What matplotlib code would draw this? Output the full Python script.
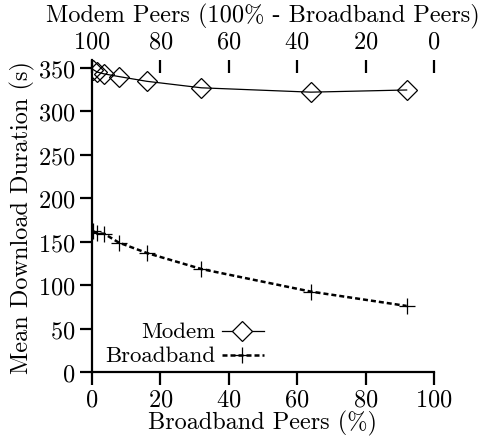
import matplotlib
matplotlib.use("Agg")
import matplotlib.pyplot as plt
from matplotlib.lines import Line2D

plt.rcParams['font.family'] = ['cmr10', 'DejaVu Serif']
plt.rcParams['axes.formatter.use_mathtext'] = True
plt.rcParams['mathtext.fontset'] = 'cm'

broadband_pct = [0.3, 1.6, 3.6, 7.8, 16, 32, 64, 92]
modem_dur = [348, 345, 343, 340, 334.5, 327, 322, 324.5]
broadband_dur = [162, 159.5, 159, 149, 137, 118.5, 92.5, 76]

xticks = [0, 20, 40, 60, 80, 100]
yticks = [0, 50, 100, 150, 200, 250, 300, 350]
top_ticks = [100, 80, 60, 40, 20, 0]

FS = 17.5
LFS = 16.5
fig = plt.figure(figsize=(4.82, 4.39), dpi=100)
ax = fig.add_axes([92/482, 1-373/439, 342/482, 312/439])

ax.plot(broadband_pct, modem_dur, color='black', lw=0.9, marker='D',
        markersize=10.5, markerfacecolor='none', markeredgecolor='black',
        markeredgewidth=0.9)
ax.plot(broadband_pct, broadband_dur, color='black', lw=1.8, ls=(0, (2.0, 1.2)),
        marker='+', markersize=11.5, markeredgewidth=0.9)

ax.set_xlim(0, 100)
ax.set_ylim(0, 359)
ax.set_xticks(xticks)
ax.set_yticks(yticks)
ax.spines['top'].set_visible(False)
ax.spines['right'].set_visible(False)
for s in ('left', 'bottom'):
    ax.spines[s].set_linewidth(1.6)
ax.tick_params(direction='out', length=9, width=1.6, labelsize=FS, pad=3)
ax.set_xlabel('Broadband Peers (%)', fontsize=FS, labelpad=-1)
ax.set_ylabel('Mean Download Duration (s)', fontsize=FS, labelpad=2)

sec = ax.secondary_xaxis('top', functions=(lambda x: 100 - x, lambda x: 100 - x))
sec.set_xticks(top_ticks)
sec.spines['top'].set_visible(False)
sec.tick_params(direction='in', length=9, width=1.6, labelsize=FS, pad=5.5)
sec.set_xlabel('Modem Peers (100% - Broadband Peers)', fontsize=FS, labelpad=6)

# gnuplot-style legend (text right-aligned, sample after)
tr = ax.transAxes
y1, y2 = 0.13, 0.055
ax.text(0.362, y1, 'Modem', transform=tr, ha='right', va='center', fontsize=LFS)
ax.add_line(Line2D([0.38, 0.503], [y1, y1], transform=tr, color='black', lw=0.9))
ax.add_line(Line2D([0.44], [y1], transform=tr, marker='D', markersize=10.5,
                   markerfacecolor='white', markeredgecolor='black', markeredgewidth=0.9))
ax.text(0.362, y2, 'Broadband', transform=tr, ha='right', va='center', fontsize=LFS)
ax.add_line(Line2D([0.38, 0.503], [y2, y2], transform=tr, color='black', lw=1.8,
                   ls=(0, (2.0, 1.2))))
ax.add_line(Line2D([0.44], [y2], transform=tr, marker='+', markersize=11.5,
                   color='black', markeredgewidth=0.9))

fig.savefig('out.png', dpi=100)
